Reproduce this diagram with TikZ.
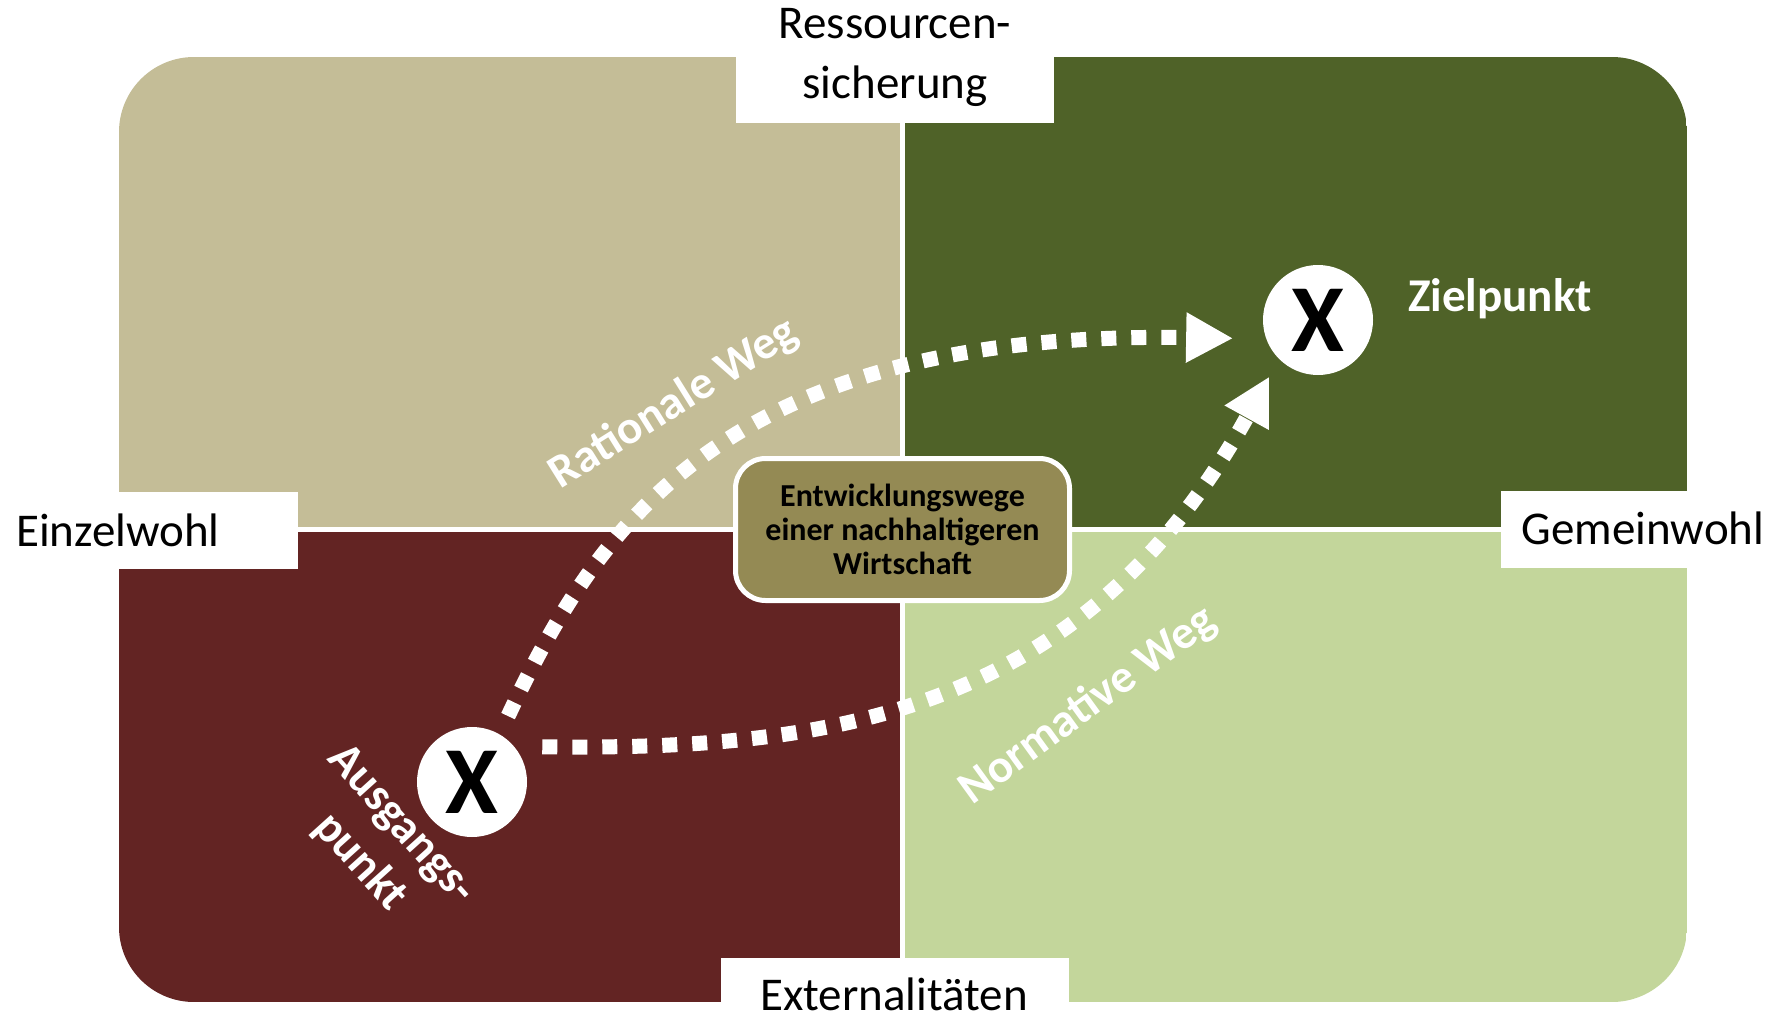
\documentclass[tikz,border=0pt]{standalone}
\usepackage{fontspec}
\setmainfont{Carlito}
\usetikzlibrary{arrows.meta}
\definecolor{sand}{HTML}{C4BD97}
\definecolor{moss}{HTML}{4F6228}
\definecolor{rust}{HTML}{632423}
\definecolor{leaf}{HTML}{C3D69B}
\definecolor{kernolive}{HTML}{948A54}
\tikzstyle{achse} = [text=black, inner sep=0pt, font=\fontsize{47}{60}\selectfont]
\tikzstyle{kern} = [draw=white, line width=5pt, fill=kernolive, rounded corners=30pt, minimum width=334pt, minimum height=142pt, align=center, font=\fontsize{32}{34}\selectfont\bfseries]
\tikzstyle{marker} = [circle, fill=white, minimum size=110pt, inner sep=0pt, font=\fontsize{96}{96}\selectfont\bfseries]
\tikzstyle{weg} = [draw=white, line width=15pt, dash pattern=on 15pt off 15pt, -{Triangle[length=47pt,width=47pt]}]
\tikzstyle{wegname} = [text=white, inner sep=0pt, font=\fontsize{47}{56}\selectfont\bfseries]

\begin{document}
\begin{tikzpicture}[x=1pt, y=-1pt]
    \useasboundingbox (0,0) rectangle (1785,1019);
    % Four quadrants inside one rounded frame
    \begin{scope}
        \clip[rounded corners=75pt] (119,57) rectangle (1687,1002);
        \fill[sand] (119,57) rectangle (900,527);
        \fill[moss] (905,57) rectangle (1687,527);
        \fill[rust] (119,532) rectangle (900,1002);
        \fill[leaf] (905,532) rectangle (1687,1002);
    \end{scope}
    % White boxes behind the axis labels
    \fill[white] (736,0) rectangle (1054,123);
    \fill[white] (0,492) rectangle (298,569);
    \fill[white] (1501,491) rectangle (1785,568);
    \fill[white] (721,958) rectangle (1069,1019);
    % Place nodes
    \node[achse, align=center] (ressourcen) at (895,57) {Ressourcen-\\sicherung};
    \node[achse, anchor=base] (einzel) at (118,546) {Einzelwohl};
    \node[achse, anchor=base] (gemein) at (1643,544) {Gemeinwohl};
    \node[achse, anchor=base] (extern) at (894,1010) {Externalitäten};
    \node[marker] (ausgang) at (472,782) {X};
    \node[marker] (ziel) at (1318,320) {X};
    \node[wegname, anchor=base west] (zieltext) at (1408,311) {Zielpunkt};
    \node[wegname, rotate=-48, align=center] (ausgangtext) at (380,844) {Ausgangs-\\punkt};
    % Draw edges
    \draw[weg, shorten <=20pt, shorten >=33pt] (ausgang.60) .. controls (600,520) and (730,330) .. (ziel.200);
    \draw[weg, shorten <=28pt, shorten >=20pt] (ausgang.40) .. controls (820,750) and (1080,720) .. (ziel.225);
    \node[wegname, rotate=32] (rational) at (674,404) {Rationale Weg};
    \node[wegname, rotate=36] (normativ) at (1088,706) {Normative Weg};
    % Box in the middle
    \node[kern] (mitte) at (902.5,529.5) {Entwicklungswege\\einer nachhaltigeren\\Wirtschaft};
\end{tikzpicture}
\end{document}
